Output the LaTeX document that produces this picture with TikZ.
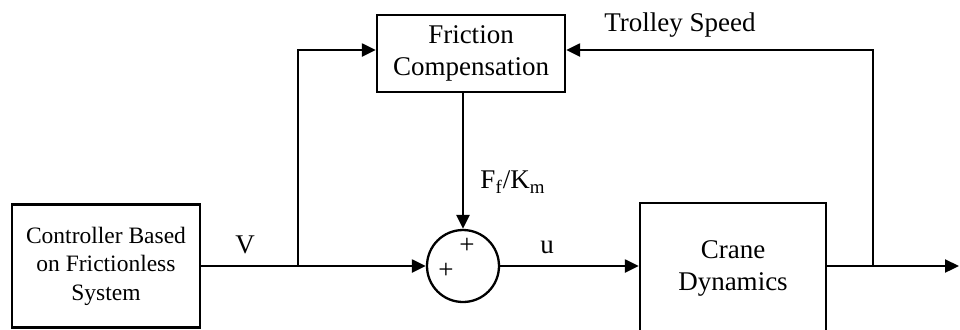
\documentclass[tikz,border=0pt]{standalone}
\usepackage{fontspec}
\setmainfont{Liberation Serif}
\usetikzlibrary{arrows.meta}
\begin{document}
\begin{tikzpicture}[x=0.5pt,y=-0.5pt, line width=1.15pt,
  >={Triangle[length=7pt,width=6.5pt]},
  blk/.style={draw, line width=1.15pt, inner sep=0pt, align=center, font=\fontsize{13.5}{16}\selectfont},
  lbl/.style={inner sep=0pt, font=\fontsize{13.5}{16}\selectfont}]
\useasboundingbox (0,0) rectangle (960,329);
\clip (0,0) rectangle (960,329);
\node[blk, minimum width=94pt, minimum height=61.5pt, font=\fontsize{11.75}{14.3}\selectfont] (ctrl) at (106,266) {Controller Based\\on Frictionless\\System};
\node[blk, minimum width=94pt, minimum height=38.5pt] (fric) at (471,53.5) {Friction\\Compensation};
\node[draw, circle, minimum size=36pt, inner sep=0pt] (sum) at (463,266) {};
\node[draw, minimum width=93pt, minimum height=80pt, inner sep=0pt] (crane) at (733,283) {};
\node[lbl, align=center] (cranetext) at (733,268) {Crane\\Dynamics};
\node[lbl] (p1) at (467,246) {+};
\node[lbl] (p2) at (446,271) {+};
\node[lbl] (vlbl) at (245,245) {V};
\node[lbl] (ulbl) at (547,247) {u};
\node[lbl] (ff) at (513,182) {F\textsubscript{f}/K\textsubscript{m}};
\node[lbl] (ts) at (680,25) {Trolley Speed};
\coordinate (fy) at (0,50);
\coordinate (j1) at (298,266);
\coordinate (j2) at (873,266);
\coordinate (out) at (959,266);
\draw (ctrl.east) -- (j1);
\draw[->] (j1) -- (sum.west);
\draw[->] (j1) |- (fric.west |- fy);
\draw[->] (fric.south -| sum.north) -- (sum.north);
\draw[->] (sum.east) -- (crane.west |- sum.east);
\draw (crane.east |- j2) -- (j2);
\draw[->] (j2) -- (out);
\draw[->] (j2) |- (fric.east |- fy);
\end{tikzpicture}
\end{document}
